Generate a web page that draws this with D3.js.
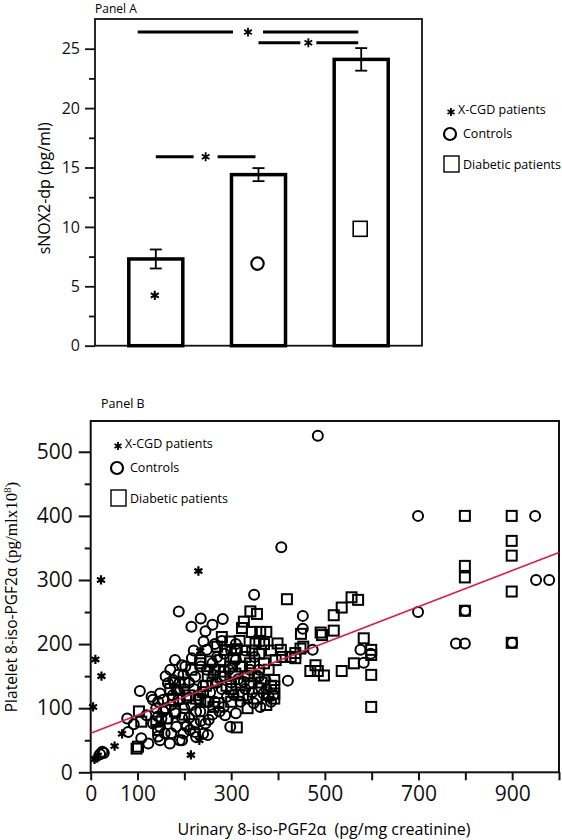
<!DOCTYPE html>
<html><head><meta charset="utf-8">
<script src="https://cdn.jsdelivr.net/npm/d3@7"></script>
<style>
html,body{margin:0;padding:0;background:#fff;}
svg{display:block;font-family:"Open Sans",sans-serif;}
</style></head>
<body>
<svg id="chart" width="562" height="840"></svg>
<script>
// ---------- Panel A data ----------
const groupsA = ["X-CGD patients", "Controls", "Diabetic patients"];
const meansA = [7.3, 14.4, 24.1];
const errorsA = [0.8, 0.55, 0.95];
const yTicksA = [0, 5, 10, 15, 20, 25];
const yMinorTicksA = [2.5, 7.5, 12.5, 17.5, 22.5];
// significance brackets: between group indices, at value level
const sigFromA = [0, 1, 0];
const sigToA = [2, 2, 1];
const sigLevelA = [26.4, 25.5, 15.9];

// ---------- Panel B data ----------
const xcgd = [[22,300],[10,176],[23,150],[5,102],[8,20],[12,22],[15,26],[51,41],[67,60],[230,314],[234,189],[232,50],[214,27]];
const controls = [
 [485,525],[407,351],[699,400],[949,400],[951,300],[979,300],[699,250],[780,201],[799,201],[800,252],[900,202],
 [453,244],[453,224],[576,191],[583,171],[598,185],[421,143],[474,191],[349,277],[282,239],[215,227],[188,251],[327,141],
 [362,102],[348,108],[298,71],[287,89],[291,118],[305,121],[284,102],
 [234,95],[252,82],[245,76],[212,66],[198,61],[223,63],[195,50],[190,50],[172,61],[183,71],[169,45],[148,50],[158,61],
 [144,56],[148,71],[133,76],[151,84],[165,84],[144,87],[119,89],[140,100],[133,113],[130,118],[148,123],[155,113],
 [165,139],[176,144],[183,128],[187,113],[172,105],[181,92],[187,152],[105,127],[78,84],[92,75],[80,63],[108,53],
 [123,45],[144,110],[20,28],[25,32],[28,30],
 [241,204],[248,191],[216,178],[202,165],[248,160],[262,152],[223,149],[198,152],[186,128],[195,167],[373,144],
 [380,118],[359,149],[369,123],
 [210,140],[220,130],[230,120],[205,115],[215,105],[225,95],[240,135],[255,125],[265,110],[270,140],[200,100],
 [195,85],[210,85],[235,80],[260,90],[275,95],[240,60],[225,55],[205,72],[260,170],[270,180],[285,185],[300,190],
 [310,200],[295,160],[315,145],[330,130],[340,160],[350,180],[320,110],[335,115],[345,125],[360,160],[375,130],
 [390,120],[385,110],[180,175],[170,160],[160,150],[190,140],[250,110],[280,130],[300,140],[310,175],[330,190],
 [265,200],[280,205],[160,100],[175,120],[235,165],[220,190],[245,220],[260,230],[235,240],[310,92],[250,58],
 [155,95],[200,130],[285,150]
];
const diabetic = [
 [799,400],[899,400],[899,361],[899,338],[799,322],[799,304],[899,282],[799,252],[899,202],[419,270],[519,245],
 [536,257],[557,273],[571,269],[449,216],[491,218],[494,214],[519,221],[583,209],[562,170],[599,191],[599,183],
 [599,152],[599,102],[536,158],[498,151],[469,158],[480,167],[485,158],[437,186],[448,193],[454,196],[437,178],
 [409,180],[427,180],[395,175],[399,201],[406,191],[392,144],[392,134],[392,123],[392,115],
 [341,251],[355,247],[327,235],[323,225],[344,219],[362,219],[375,219],[352,201],[280,211],[298,204],[287,191],
 [312,192],[270,196],[277,175],[305,178],[234,175],[234,170],[255,173],[298,165],[309,154],[284,157],[323,165],
 [277,149],[341,139],[359,131],[273,108],[316,121],[312,70],[234,113],[262,102],[245,110],[98,37],[101,40],
 [103,95],[108,79],[140,79],[144,66],[176,113],[180,95],[162,84],
 [330,180],[345,190],[360,185],[370,170],[380,160],[365,140],[350,150],[335,150],[320,140],[300,130],[290,135],
 [260,140],[250,150],[240,125],[225,115],[210,120],[200,140],[190,115],[180,140],[170,130],[215,160],[265,160],
 [300,110],[335,100],[355,115],[375,105],[318,205],[340,170],[370,200],[385,190],[220,75],[200,90],[385,135],
 [325,120],[360,205],[246,135]
];
const regression = {intercept: 61, slope: 0.282};
const xTicksB = [0,100,200,300,400,500,600,700,800,900,1000];
const xTickLabelsB = [0,100,300,500,700,900];
const yTicksB = [0,100,200,300,400,500];
const yMinorTicksB = [50,150,250,350,450];

const svg = d3.select("#chart");

// ================= PANEL A =================
const A = {left: 95, right: 422, top: 19, bottom: 345.7};
const xA = d3.scaleBand().domain(d3.range(groupsA.length)).range([A.left, A.right])
  .paddingInner(0.474).paddingOuter(0.329);
const yA = d3.scaleLinear().domain([0, 27.5]).range([A.bottom, A.top]);
const gA = svg.append("g");

gA.append("text").attr("x", 95).attr("y", 13).attr("font-size", 12).text("Panel A");

// frame
gA.append("rect").attr("x", A.left).attr("y", A.top).attr("width", A.right - A.left)
  .attr("height", A.bottom - A.top).attr("fill", "none").attr("stroke", "#111").attr("stroke-width", 1.8);

// y axis
const axA = d3.axisLeft(yA).tickValues(yTicksA).tickSize(10).tickPadding(5).tickFormat(d3.format("d"));
const axAg = gA.append("g").attr("transform", `translate(${A.left},0)`).call(axA);
axAg.select(".domain").remove();
axAg.selectAll("line").attr("stroke", "#111").attr("stroke-width", 1.8);
axAg.selectAll("text").attr("font-size", 16).attr("font-family", "Open Sans").attr("fill", "#111");
const axAm = gA.append("g").attr("transform", `translate(${A.left},0)`)
  .call(d3.axisLeft(yA).tickValues(yMinorTicksA).tickSize(6).tickFormat(""));
axAm.select(".domain").remove();
axAm.selectAll("line").attr("stroke", "#111").attr("stroke-width", 1.8);

gA.append("text").attr("transform", `translate(50,${(A.top + A.bottom) / 2 + 6}) rotate(-90)`)
  .attr("text-anchor", "middle").attr("font-size", 16).text("sNOX2-dp (pg/ml)");

// bars
gA.selectAll("rect.bar").data(meansA).join("rect").attr("class", "bar")
  .attr("x", (d, i) => xA(i)).attr("width", xA.bandwidth())
  .attr("y", d => yA(d)).attr("height", d => yA(0) - yA(d))
  .attr("fill", "#fff").attr("stroke", "#000").attr("stroke-width", 3.5);

// error bars
meansA.forEach((m, i) => {
  const cx = xA(i) + xA.bandwidth() / 2;
  const e = errorsA[i];
  const g = gA.append("g").attr("stroke", "#000").attr("stroke-width", 1.8);
  g.append("line").attr("x1", cx).attr("x2", cx).attr("y1", yA(m + e)).attr("y2", yA(m - e));
  g.append("line").attr("x1", cx - 6).attr("x2", cx + 6).attr("y1", yA(m + e)).attr("y2", yA(m + e));
  g.append("line").attr("x1", cx - 6).attr("x2", cx + 6).attr("y1", yA(m - e)).attr("y2", yA(m - e));
});

// group symbols inside bars
const star = d3.symbol().type(d3.symbolAsterisk);
const bc = i => xA(i) + xA.bandwidth() / 2;
gA.append("path").attr("d", star.size(60)()).attr("transform", `translate(${bc(0) - 1},${yA(meansA[0] * 0.58)})`)
  .attr("stroke", "#000").attr("stroke-width", 2).attr("fill", "none");
gA.append("circle").attr("cx", bc(1) - 1).attr("cy", yA(meansA[1] * 0.48)).attr("r", 6.2)
  .attr("fill", "#fff").attr("stroke", "#000").attr("stroke-width", 2.2);
gA.append("rect").attr("x", bc(2) - 1 - 7).attr("y", yA(meansA[2] * 0.41) - 7).attr("width", 14).attr("height", 15)
  .attr("fill", "#fff").attr("stroke", "#000").attr("stroke-width", 1.6);

// significance lines
const sigGaps = [15, 8, 12];
sigFromA.forEach((f, k) => {
  let x1 = bc(f), x2 = bc(sigToA[k]) - 3;
  if (k === 0) x1 = bc(f) - 18;
  const mid = (x1 + x2) / 2;
  const y = yA(sigLevelA[k]);
  const gap = sigGaps[k];
  const g = gA.append("g").attr("stroke", "#000").attr("stroke-width", 3);
  g.append("line").attr("x1", x1).attr("x2", mid - gap).attr("y1", y).attr("y2", y);
  g.append("line").attr("x1", mid + gap).attr("x2", x2).attr("y1", y).attr("y2", y);
  gA.append("path").attr("d", star.size(55)()).attr("transform", `translate(${mid},${y})`)
    .attr("stroke", "#000").attr("stroke-width", 1.8).attr("fill", "none");
});

// legend
function legend(g, x, y) {
  g.append("path").attr("d", star.size(45)()).attr("transform", `translate(${x + 7},${y + 2})`)
    .attr("stroke", "#000").attr("stroke-width", 1.8).attr("fill", "none");
  g.append("text").attr("x", x + 14).attr("y", y + 4).attr("font-size", 12.5).text("X-CGD patients");
  g.append("circle").attr("cx", x + 6).attr("cy", y + 24).attr("r", 6).attr("fill", "#fff")
    .attr("stroke", "#000").attr("stroke-width", 2.2);
  g.append("text").attr("x", x + 19).attr("y", y + 28).attr("font-size", 12.5).text("Controls");
  g.append("rect").attr("x", x).attr("y", y + 46).attr("width", 15).attr("height", 16).attr("fill", "#fff")
    .attr("stroke", "#000").attr("stroke-width", 1.4);
  g.append("text").attr("x", x + 19).attr("y", y + 59).attr("font-size", 12.5).text("Diabetic patients");
}
legend(gA, 444, 110);

// ================= PANEL B =================
const B = {left: 90.7, right: 559, top: 421, bottom: 772.3};
const xB = d3.scaleLinear().domain([0, 1000]).range([B.left, B.right]);
const yB = d3.scaleLinear().domain([0, 548]).range([B.bottom, B.top]);
const gB = svg.append("g");

gB.append("text").attr("x", 101).attr("y", 408).attr("font-size", 12.5).text("Panel B");

gB.append("rect").attr("x", B.left).attr("y", B.top).attr("width", B.right - B.left)
  .attr("height", B.bottom - B.top).attr("fill", "none").attr("stroke", "#111").attr("stroke-width", 2);

const axBx = gB.append("g").attr("transform", `translate(0,${B.bottom})`)
  .call(d3.axisBottom(xB).tickValues(xTicksB).tickSize(8).tickPadding(6)
    .tickFormat(d => xTickLabelsB.includes(d) ? d : ""));
axBx.select(".domain").remove();
axBx.selectAll("line").attr("stroke", "#111").attr("stroke-width", 2);
axBx.selectAll("text").attr("font-size", 21).attr("font-family", "Open Sans").attr("fill", "#111");

const axBy = gB.append("g").attr("transform", `translate(${B.left},0)`)
  .call(d3.axisLeft(yB).tickValues(yTicksB).tickSize(12).tickPadding(6).tickFormat(d3.format("d")));
axBy.select(".domain").remove();
axBy.selectAll("line").attr("stroke", "#111").attr("stroke-width", 2);
axBy.selectAll("text").attr("font-size", 21).attr("font-family", "Open Sans").attr("fill", "#111");
const axBym = gB.append("g").attr("transform", `translate(${B.left},0)`)
  .call(d3.axisLeft(yB).tickValues(yMinorTicksB).tickSize(6).tickFormat(""));
axBym.select(".domain").remove();
axBym.selectAll("line").attr("stroke", "#111").attr("stroke-width", 2);

// axis labels
gB.append("text").attr("x", 324).attr("y", 835).attr("text-anchor", "middle").attr("font-size", 16)
  .text("Urinary 8-iso-PGF2α\u00a0\u00a0(pg/mg creatinine)");
const yl = gB.append("text").attr("transform", `translate(16.5,597) rotate(-90)`).attr("text-anchor", "middle")
  .attr("font-size", 15.5);
yl.append("tspan").text("Platelet 8-iso-PGF2α ");
yl.append("tspan").attr("font-family", "Liberation Serif, serif").attr("font-size", 17).text("(pg/mlx10");
yl.append("tspan").attr("font-family", "Liberation Serif, serif").attr("font-size", 10.5).attr("dy", -6).text("8");
yl.append("tspan").attr("font-family", "Liberation Serif, serif").attr("font-size", 17).attr("dy", 6).text(")");

// points
const pts = gB.append("g");
pts.selectAll("circle").data(controls).join("circle")
  .attr("cx", d => xB(d[0])).attr("cy", d => yB(d[1])).attr("r", 5)
  .attr("fill", "none").attr("stroke", "#000").attr("stroke-width", 2);
pts.selectAll("rect").data(diabetic).join("rect")
  .attr("x", d => xB(d[0]) - 5).attr("y", d => yB(d[1]) - 5).attr("width", 10).attr("height", 10)
  .attr("fill", "none").attr("stroke", "#000").attr("stroke-width", 2);
pts.selectAll("path").data(xcgd).join("path")
  .attr("d", star.size(60)())
  .attr("transform", d => `translate(${xB(d[0])},${yB(d[1])})`)
  .attr("fill", "none").attr("stroke", "#000").attr("stroke-width", 2.2);

// regression line
const line = d3.line().x(d => xB(d)).y(d => yB(regression.intercept + regression.slope * d));
gB.append("path").attr("d", line([0, 1000])).attr("fill", "none").attr("stroke", "#d6204b").attr("stroke-width", 1.6);

legend(gB, 111, 444);
</script>
</body></html>
